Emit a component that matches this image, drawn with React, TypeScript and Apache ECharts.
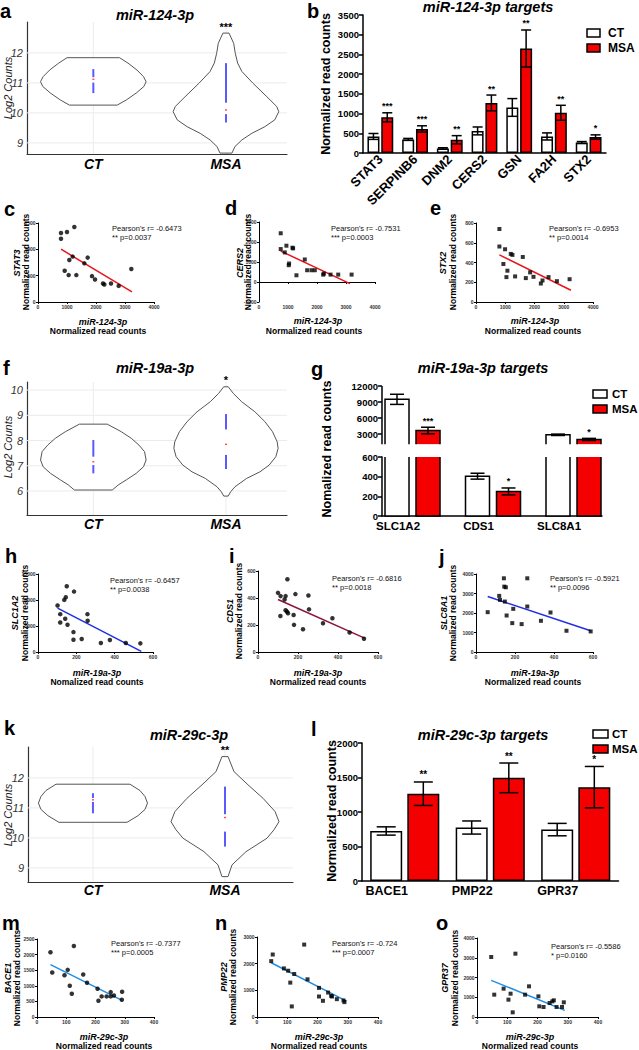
import React, { useEffect, useRef } from 'react';
import * as echarts from 'echarts';

const FONT = '"Liberation Sans", Arial, Helvetica, sans-serif';
const RED = '#f50000';
const BLUE_FIT = '#1f2fe0';
const DARKRED_FIT = '#8b1538';
const LIGHTBLUE_FIT = '#1e8ee6';

/* ---------------- violin panels (a, f, k) ---------------- */
const violinGroups = ['CT', 'MSA'];

const aTicks = [9, 10, 11, 12];
const aCtLevels = [11.84, 11.66, 11.43, 11.21, 11.04, 10.88, 10.66, 10.43, 10.26];
const aCtHalf = [0.198, 0.261, 0.329, 0.378, 0.398, 0.381, 0.323, 0.248, 0.18];
const aMsaLevels = [12.66, 12.32, 11.99, 11.66, 11.38, 10.99, 10.54, 10.21, 10.04, 9.77, 9.54, 9.32, 9.1, 8.88, 8.66];
const aMsaHalf = [0.023, 0.058, 0.07, 0.088, 0.12, 0.203, 0.308, 0.383, 0.398, 0.368, 0.293, 0.195, 0.12, 0.068, 0.045];
const aCtIqr = [[11.19, 11.46], [10.66, 11.01]];
const aMsaIqr = [[10.34, 11.66], [9.68, 9.96]];
const aMedians = [11.12, 10.1];
const aStars = ['', '***'];

const fTicks = [6, 7, 8, 9, 10];
const fCtLevels = [8.65, 8.35, 8.09, 7.82, 7.56, 7.23, 6.96, 6.7, 6.44, 6.24, 6.04];
const fCtHalf = [0.105, 0.211, 0.286, 0.344, 0.386, 0.398, 0.378, 0.323, 0.248, 0.188, 0.143];
const fMsaLevels = [10.13, 9.87, 9.54, 9.14, 8.75, 8.35, 7.95, 7.69, 7.36, 7.03, 6.76, 6.5, 6.17, 5.97, 5.8];
const fMsaHalf = [0.017, 0.055, 0.118, 0.218, 0.293, 0.351, 0.386, 0.393, 0.376, 0.326, 0.256, 0.156, 0.068, 0.035, 0.017];
const fCtIqr = [[7.36, 8.02], [6.7, 7.03]];
const fMsaIqr = [[8.44, 9.05], [6.87, 7.43]];
const fMedians = [7.16, 7.85];
const fStars = ['', '*'];

const kTicks = [9, 10, 11, 12];
const kCtLevels = [11.79, 11.58, 11.38, 11.16, 10.95, 10.74, 10.52];
const kCtHalf = [0.28, 0.356, 0.394, 0.413, 0.394, 0.341, 0.258];
const kMsaLevels = [12.71, 12.21, 11.77, 11.32, 10.88, 10.54, 10.27, 9.99, 9.54, 9.1, 8.71];
const kMsaHalf = [0.023, 0.068, 0.174, 0.288, 0.379, 0.409, 0.371, 0.318, 0.159, 0.053, 0.023];
const kCtIqr = [[11.33, 11.49], [10.82, 11.2]];
const kMsaIqr = [[10.79, 11.71], [9.71, 10.21]];
const kMedians = [11.27, 10.68];
const kStars = ['', '**'];

/* ---------------- bar panels (b, g, l) ---------------- */
const legendNames = ['CT', 'MSA'];

const genesB = ['STAT3', 'SERPINB6', 'DNM2', 'CERS2', 'GSN', 'FA2H', 'STX2'];
const ctB = [420, 345, 115, 560, 1155, 420, 265];
const ctErrB = [75, 25, 18, 100, 225, 90, 25];
const msaB = [905, 610, 335, 1270, 2650, 1020, 405];
const msaErrB = [115, 80, 105, 200, 470, 190, 55];
const sigB = ['***', '***', '**', '**', '**', '**', '*'];

const genesG = ['SLC1A2', 'CDS1', 'SLC8A1'];
const ctG = [9500, 405, 2850];
const ctErrG = [950, 30, 130];
const msaG = [3650, 250, 1980];
const msaErrG = [620, 35, 200];
const sigG = ['***', '*', '*'];
const gUpperTicks = [3000, 6000, 9000, 12000];
const gUpperMax = 12000;
const gBreakLow = 1100;
const gLowerMax = 600;

const genesL = ['BACE1', 'PMP22', 'GPR37'];
const ctL = [725, 775, 745];
const ctErrL = [60, 95, 90];
const msaL = [1265, 1495, 1360];
const msaErrL = [170, 215, 300];
const sigL = ['**', '**', '*'];

/* ---------------- scatter panels ---------------- */
const cPts = [[793, 1309], [793, 1200], [1000, 1328], [1253, 1423], [1080, 798], [1195, 862], [920, 594], [1057, 511], [1322, 511], [1598, 734], [1713, 843], [1862, 491], [1966, 428], [2241, 351], [2287, 332], [2517, 351], [2782, 306], [3218, 626]];
const cFit = [[793, 1002], [3241, 191]];
const dPts = [[749, 2437], [749, 1647], [888, 1479], [945, 1815], [1026, 840], [1037, 924], [1153, 1714], [1176, 1681], [1291, 336], [1579, 1126], [1660, 588], [1810, 588], [1925, 588], [2213, 370], [2236, 420], [2467, 370], [2732, 370], [3193, 370]];
const dFit = [[749, 1546], [3135, -84]];
const ePts = [[800, 739], [800, 562], [994, 534], [937, 385], [1074, 317], [1040, 252], [1189, 487], [1246, 477], [1337, 259], [1600, 456], [1703, 242], [1851, 300], [1966, 255], [2217, 187], [2274, 218], [2480, 252], [2766, 211], [3200, 231]];
const eFit = [[800, 477], [3246, 119]];
const hPts = [[102, 8936], [116, 7277], [116, 5681], [137, 10021], [145, 10532], [142, 6383], [150, 12638], [154, 5234], [188, 11617], [185, 3830], [185, 2362], [228, 2489], [258, 7277], [259, 6000], [328, 1723], [375, 2298], [458, 1723], [534, 1660]];
const hFit = [[102, 8426], [539, 128]];
const iPts = [[100, 438], [113, 414], [112, 267], [133, 389], [138, 414], [138, 309], [147, 539], [145, 299], [150, 287], [178, 274], [180, 201], [187, 429], [225, 169], [252, 419], [255, 316], [325, 213], [372, 250], [458, 144], [530, 98]];
const iFit = [[100, 389], [533, 103]];
const jPts = [[60, 2043], [119, 2877], [123, 2672], [143, 3779], [145, 3353], [153, 3319], [148, 2587], [157, 1872], [191, 2213], [186, 1481], [234, 1430], [263, 3779], [263, 2332], [333, 1600], [382, 2026], [464, 1089], [588, 1055]];
const jFit = [[60, 2843], [588, 1089]];
const mPts = [[46, 2074], [52, 1426], [94, 1340], [105, 1511], [112, 1000], [119, 745], [126, 2277], [158, 1362], [171, 1096], [207, 904], [210, 521], [221, 660], [238, 660], [252, 660], [252, 798], [263, 691], [290, 553], [291, 809]];
const mFit = [[46, 1681], [291, 532]];
const nPts = [[47, 2095], [52, 2343], [89, 1822], [103, 1736], [110, 1289], [115, 397], [123, 1612], [156, 2715], [167, 1413], [205, 1091], [205, 769], [218, 607], [235, 917], [245, 793], [248, 769], [264, 669], [286, 620], [289, 558]];
const nFit = [[47, 2033], [296, 595]];
const oPts = [[47, 3038], [57, 1131], [88, 1435], [104, 878], [111, 1181], [118, 236], [127, 3207], [159, 1131], [172, 1553], [203, 1046], [206, 540], [220, 506], [240, 709], [249, 793], [254, 844], [263, 506], [281, 506], [287, 743]];
const oFit = [[47, 1857], [290, 338]];

const xTicks124 = [0, 4000, 1000];
const xTicks19a = [0, 600, 200];
const xTicks29c = [0, 400, 100];
const cY = [0, 1500, 500];
const dY = [-1000, 3000, 1000];
const eY = [0, 800, 200];
const hY = [0, 15000, 5000];
const iY = [0, 600, 200];
const jY = [0, 4000, 1000];
const mY = [0, 2500, 500];
const nY = [0, 3000, 1000];
const oY = [0, 4000, 1000];

const pearson = {
  c: ["Pearson's r= -0.6473", '** p=0.0037'],
  d: ["Pearson's r= -0.7531", '*** p=0.0003'],
  e: ["Pearson's r= -0.6953", '** p=0.0014'],
  h: ["Pearson's r= -0.6457", '** p=0.0038'],
  i: ["Pearson's r= -0.6816", '** p=0.0018'],
  j: ["Pearson's r= -0.5921", '** p=0.0096'],
  m: ["Pearson's r= -0.7377", '*** p=0.0005'],
  n: ["Pearson's r= -0.724", '*** p=0.0007'],
  o: ["Pearson's r= -0.5586", '* p=0.0160'],
};

/* ---------------- helpers ---------------- */
const plain = (v: number) => String(v);

type Txt = { w?: string; i?: boolean; al?: string; va?: string; rot?: number; fill?: string };
const T = (x: number, y: number, text: string, size: number, o: Txt = {}) => ({
  type: 'text',
  x,
  y,
  rotation: o.rot || 0,
  silent: true,
  z: 50,
  style: {
    text,
    fontSize: size,
    fontWeight: o.w || 'normal',
    fontStyle: o.i ? 'italic' : 'normal',
    fontFamily: FONT,
    fill: o.fill || '#000',
    align: o.al || 'left',
    textAlign: o.al || 'left',
    verticalAlign: o.va || 'middle',
    textVerticalAlign: o.va || 'middle',
  },
});
const R = (x: number, y: number, w: number, h: number, fill: string) => ({
  type: 'rect',
  silent: true,
  z: 50,
  shape: { x, y, width: w, height: h },
  style: { fill, stroke: '#000', lineWidth: 1.5 },
});

const mkViolin = (center: number, levels: number[], half: number[], iqr: number[][], median: number, star: string) => ({ center, levels, half, iqr, median, star });

const violinRender = (defs: any[], yMin: number, yMax: number) => (params: any, api: any) => {
  const d = defs[params.dataIndex];
  const right = d.levels.map((lv: number, k: number) => api.coord([d.center + d.half[k], lv]));
  const left = d.levels.map((lv: number, k: number) => api.coord([d.center - d.half[k], lv])).reverse();
  const g0 = api.coord([d.center, yMin]);
  const g1 = api.coord([d.center, yMax]);
  const ch: any[] = [
    { type: 'line', shape: { x1: g0[0], y1: g0[1], x2: g1[0], y2: g1[1] }, style: { stroke: '#ececec', lineWidth: 1 } },
    { type: 'polygon', shape: { points: right.concat(left) }, style: { fill: '#fff', stroke: '#555', lineWidth: 1 } },
  ];
  d.iqr.forEach((seg: number[]) => {
    const p = api.coord([d.center, seg[1]]);
    const q = api.coord([d.center, seg[0]]);
    ch.push({ type: 'line', shape: { x1: p[0], y1: p[1], x2: q[0], y2: q[1] }, style: { stroke: '#5a5aff', lineWidth: 2 } });
  });
  const m = api.coord([d.center, d.median]);
  ch.push({ type: 'rect', shape: { x: m[0] - 1, y: m[1] - 0.75, width: 2, height: 1.5 }, style: { fill: '#ff5050' } });
  if (d.star) {
    const t = api.coord([d.center, d.levels[0]]);
    ch.push({
      type: 'text', x: t[0], y: t[1] - 1,
      style: { text: d.star, fontSize: 11, fontWeight: 'bold', fontFamily: FONT, fill: '#000', align: 'center', textAlign: 'center', verticalAlign: 'bottom', textVerticalAlign: 'bottom' },
    });
  }
  return { type: 'group', children: ch };
};

const gridLineRender = (params: any, api: any) => {
  const y = api.coord([1, api.value(1)])[1];
  const cs = params.coordSys;
  return { type: 'line', shape: { x1: cs.x, y1: y, x2: cs.x + cs.width, y2: y }, style: { stroke: '#ebebeb', lineWidth: 1 } };
};

const errShapes = (api: any, xv: number, m: number, e: number, cx: number, capW: number, star: string, starSize: number) => {
  const yt = api.coord([xv, m + e])[1];
  const yb = api.coord([xv, m - e])[1];
  const st = { stroke: '#000', lineWidth: 1.5 };
  const ch: any[] = [
    { type: 'line', shape: { x1: cx, y1: yt, x2: cx, y2: yb }, style: st },
    { type: 'line', shape: { x1: cx - capW / 2, y1: yt, x2: cx + capW / 2, y2: yt }, style: st },
    { type: 'line', shape: { x1: cx - capW / 2, y1: yb, x2: cx + capW / 2, y2: yb }, style: st },
  ];
  if (star) {
    ch.push({
      type: 'text', x: cx, y: yt - 2,
      style: { text: star, fontSize: starSize, fontWeight: 'bold', fontFamily: FONT, fill: '#000', align: 'center', textAlign: 'center', verticalAlign: 'bottom', textVerticalAlign: 'bottom' },
    });
  }
  return ch;
};

const errRender = (off: number, capW: number, sig: string[], starSize: number) => (params: any, api: any) => {
  const i = api.value(0);
  const m = api.value(1);
  const e = api.value(2);
  const s = api.value(3);
  const cx = api.coord([i, m])[0] + (s === 0 ? -off : off);
  return { type: 'group', children: errShapes(api, i, m, e, cx, capW, s === 1 ? sig[i] : '', starSize) };
};

const G_BW = 24;
const G_OFF = 15.5;
const G_CAP = 14;

const gUpperRender = (params: any, api: any) => {
  const x = api.value(0);
  const v = api.value(1);
  const s = api.value(2);
  const e = api.value(3);
  const cs = params.coordSys;
  const ch: any[] = [];
  if (params.dataIndex === 0) {
    const yb = api.coord([x, gBreakLow])[1];
    ch.push({ type: 'line', shape: { x1: cs.x, y1: yb, x2: cs.x, y2: cs.y }, style: { stroke: '#000', lineWidth: 1.5 } });
  }
  if (v > gLowerMax) {
    const pT = api.coord([x, v]);
    const pB = api.coord([x, gBreakLow]);
    const cx = pT[0] + (s ? G_OFF : -G_OFF);
    const l = cx - G_BW / 2;
    const r = cx + G_BW / 2;
    ch.push({ type: 'rect', shape: { x: l, y: pT[1], width: G_BW, height: pB[1] - pT[1] }, style: { fill: s ? RED : '#fff' } });
    ch.push({ type: 'polyline', shape: { points: [[l, pB[1]], [l, pT[1]], [r, pT[1]], [r, pB[1]]] }, style: { stroke: '#000', lineWidth: 1.5, fill: 'none' } });
    ch.push(...errShapes(api, x, v, e, cx, G_CAP, s ? sigG[Math.floor(params.dataIndex / 2)] : '', 9));
  }
  return { type: 'group', children: ch };
};

const gLowerRender = (params: any, api: any) => {
  const x = api.value(0);
  const v = api.value(1);
  const s = api.value(2);
  const e = api.value(3);
  const broken = v > gLowerMax;
  const pT = api.coord([x, broken ? gLowerMax : v]);
  const pB = api.coord([x, 0]);
  const cx = pT[0] + (s ? G_OFF : -G_OFF);
  const l = cx - G_BW / 2;
  const r = cx + G_BW / 2;
  const ch: any[] = [
    { type: 'rect', shape: { x: l, y: pT[1], width: G_BW, height: pB[1] - pT[1] }, style: { fill: s ? RED : '#fff' } },
  ];
  if (broken) {
    ch.push({ type: 'polyline', shape: { points: [[l, pT[1]], [l, pB[1]], [r, pB[1]], [r, pT[1]]] }, style: { stroke: '#000', lineWidth: 1.5, fill: 'none' } });
  } else {
    ch.push({ type: 'rect', shape: { x: l, y: pT[1], width: G_BW, height: pB[1] - pT[1] }, style: { fill: 'none', stroke: '#000', lineWidth: 1.5 } });
    ch.push(...errShapes(api, x, v, e, cx, G_CAP, s ? sigG[Math.floor(params.dataIndex / 2)] : '', 9));
  }
  return { type: 'group', children: ch };
};

function buildOption() {
  const grids = [
    { left: 27, top: 22, width: 260, height: 132 }, // 0 a
    { left: 363, top: 15, width: 243, height: 138 }, // 1 b
    { left: 38, top: 223, width: 116, height: 79 }, // 2 c
    { left: 259, top: 222, width: 116, height: 80 }, // 3 d
    { left: 476, top: 223, width: 117, height: 79 }, // 4 e
    { left: 27, top: 382, width: 260, height: 133 }, // 5 f
    { left: 382, top: 386, width: 220, height: 64 }, // 6 g upper
    { left: 382, top: 457, width: 220, height: 59 }, // 7 g lower
    { left: 38, top: 574, width: 115, height: 78 }, // 8 h
    { left: 258, top: 571, width: 120, height: 81 }, // 9 i
    { left: 476, top: 574, width: 117, height: 78 }, // 10 j
    { left: 28, top: 747, width: 265, height: 135 }, // 11 k
    { left: 362, top: 743, width: 256.5, height: 138 }, // 12 l
    { left: 37, top: 939, width: 117, height: 78 }, // 13 m
    { left: 257, top: 937, width: 121, height: 80 }, // 14 n
    { left: 477, top: 938, width: 121, height: 79 }, // 15 o
  ].map((g) => ({ ...g, outerBoundsMode: 'none' }));

  const axisBlack = (w: number) => ({ show: true, onZero: false, lineStyle: { color: '#000', width: w } });

  const vX = (gi: number, min: number, max: number, margin: number) => ({
    gridIndex: gi, type: 'value', min, max,
    axisLine: { show: true, onZero: false, lineStyle: { color: '#333', width: 1.2 } },
    axisTick: { show: false }, splitLine: { show: false },
    axisLabel: {
      customValues: [1, 2], formatter: (v: number) => violinGroups[Math.round(v) - 1] || '',
      fontSize: 14, fontWeight: 'bold', fontStyle: 'italic', color: '#000', margin, fontFamily: FONT,
    },
  });
  const vY = (gi: number, min: number, max: number, ticks: number[]) => ({
    gridIndex: gi, type: 'value', min, max,
    axisLine: { show: true, onZero: false, lineStyle: { color: '#333', width: 1.2 } },
    axisTick: { show: false }, splitLine: { show: false },
    axisLabel: { customValues: ticks, formatter: plain, fontSize: 11, fontStyle: 'italic', color: '#333', margin: 4, fontFamily: FONT },
  });
  const sLabel = { formatter: plain, fontSize: 5, fontWeight: 'bold', color: '#333', margin: 2.5, fontFamily: FONT };
  const sX = (gi: number, t: number[]) => ({
    gridIndex: gi, type: 'value', min: t[0], max: t[1], interval: t[2],
    axisLine: { show: true, onZero: true, lineStyle: { color: '#000', width: 1 } },
    axisTick: { show: true, length: 2, lineStyle: { color: '#000', width: 1 } },
    axisLabel: sLabel,
    splitLine: { show: false },
  });
  const sY = (gi: number, t: number[]) => ({
    gridIndex: gi, type: 'value', min: t[0], max: t[1], interval: t[2],
    axisLine: { show: true, onZero: false, lineStyle: { color: '#000', width: 1 } },
    axisTick: { show: true, length: 2, lineStyle: { color: '#000', width: 1 } },
    axisLabel: sLabel,
    splitLine: { show: false },
  });
  const barY = (gi: number, min: number, max: number, interval: number) => ({
    gridIndex: gi, type: 'value', min, max, interval,
    axisLine: axisBlack(1.5),
    axisTick: { show: true, length: 4, lineStyle: { color: '#000', width: 1.5 } },
    axisLabel: { formatter: plain, fontSize: 9.5, fontWeight: 'bold', color: '#000', margin: 4, fontFamily: FONT },
    splitLine: { show: false },
  });

  const xAxis = [
    vX(0, 0.5, 2.46, 3),
    {
      gridIndex: 1, type: 'category', data: genesB,
      axisLine: axisBlack(1.5), axisTick: { show: false },
      axisLabel: { rotate: 45, interval: 0, fontSize: 13, fontWeight: 'bold', color: '#000', margin: 4, fontFamily: FONT },
    },
    sX(2, xTicks124), sX(3, xTicks124), sX(4, xTicks124),
    vX(5, 0.5, 2.46, 2),
    { gridIndex: 6, type: 'value', min: 0.621, max: 3.354, show: false },
    {
      gridIndex: 7, type: 'value', min: 0.621, max: 3.354,
      axisLine: axisBlack(1.5), axisTick: { show: false }, splitLine: { show: false },
      axisLabel: {
        customValues: [1, 2, 3], formatter: (v: number) => genesG[Math.round(v) - 1] || '',
        fontSize: 11.5, fontWeight: 'bold', color: '#000', margin: 4, padding: [0, 29, 0, 0], fontFamily: FONT,
      },
    },
    sX(8, xTicks19a), sX(9, xTicks19a), sX(10, xTicks19a),
    vX(11, 0.508, 2.515, 1),
    {
      gridIndex: 12, type: 'category', data: genesL,
      axisLine: axisBlack(1.5), axisTick: { show: false },
      axisLabel: { interval: 0, fontSize: 12.5, fontWeight: 'bold', color: '#000', margin: 3, padding: [0, 36, 0, 0], fontFamily: FONT },
    },
    sX(13, xTicks29c), sX(14, xTicks29c), sX(15, xTicks29c),
  ];

  const yAxis = [
    vY(0, 8.63, 13.03, aTicks),
    barY(1, 0, 3500, 500),
    sY(2, cY), sY(3, dY), sY(4, eY),
    vY(5, 5.05, 10.32, fTicks),
    {
      gridIndex: 6, type: 'value', min: 0, max: gUpperMax,
      axisLine: { show: false },
      axisTick: { show: true, customValues: gUpperTicks, length: 4, lineStyle: { color: '#000', width: 1.5 } },
      axisLabel: { customValues: gUpperTicks, formatter: plain, fontSize: 9.5, fontWeight: 'bold', color: '#000', margin: 4, fontFamily: FONT },
      splitLine: { show: false },
    },
    barY(7, 0, gLowerMax, 200),
    sY(8, hY), sY(9, iY), sY(10, jY),
    vY(11, 8.53, 13.03, kTicks),
    barY(12, 0, 2000, 500),
    sY(13, mY), sY(14, nY), sY(15, oY),
  ];

  const aDefs = [mkViolin(1, aCtLevels, aCtHalf, aCtIqr, aMedians[0], aStars[0]), mkViolin(2, aMsaLevels, aMsaHalf, aMsaIqr, aMedians[1], aStars[1])];
  const fDefs = [mkViolin(1, fCtLevels, fCtHalf, fCtIqr, fMedians[0], fStars[0]), mkViolin(2, fMsaLevels, fMsaHalf, fMsaIqr, fMedians[1], fStars[1])];
  const kDefs = [mkViolin(1, kCtLevels, kCtHalf, kCtIqr, kMedians[0], kStars[0]), mkViolin(2, kMsaLevels, kMsaHalf, kMsaIqr, kMedians[1], kStars[1])];

  const violinSeries = (gi: number, defs: any[], ticks: number[], yMin: number, yMax: number) => [
    { type: 'custom', xAxisIndex: gi, yAxisIndex: gi, z: 1, silent: true, data: ticks.map((t) => [1, t]), renderItem: gridLineRender },
    { type: 'custom', xAxisIndex: gi, yAxisIndex: gi, z: 2, silent: true, data: defs.map((d) => [d.center, d.levels[0]]), renderItem: violinRender(defs, yMin, yMax) },
  ];

  const barSeries = (gi: number, genes: string[], ct: number[], ctErr: number[], msa: number[], msaErr: number[], sig: string[], bw: number, gap: string, off: number, cap: number, starSize: number) => [
    { type: 'bar', name: 'CT', xAxisIndex: gi, yAxisIndex: gi, data: ct, barWidth: bw, barGap: gap, silent: true, itemStyle: { color: '#fff', borderColor: '#000', borderWidth: 1.5 } },
    { type: 'bar', name: 'MSA', xAxisIndex: gi, yAxisIndex: gi, data: msa, barWidth: bw, barGap: gap, silent: true, itemStyle: { color: RED, borderColor: '#000', borderWidth: 1.5 } },
    {
      type: 'custom', xAxisIndex: gi, yAxisIndex: gi, z: 3, silent: true,
      data: genes.map((_, i) => [i, ct[i], ctErr[i], 0]).concat(genes.map((_, i) => [i, msa[i], msaErr[i], 1])),
      renderItem: errRender(off, cap, sig, starSize),
    },
  ];

  const scatterSeries = (gi: number, pts: number[][], fit: number[][], color: string, symbol: string) => [
    { type: 'scatter', xAxisIndex: gi, yAxisIndex: gi, data: pts, symbol, symbolSize: symbol === 'rect' ? 4 : 4.5, silent: true, itemStyle: { color: '#000' }, z: 3 },
    { type: 'line', xAxisIndex: gi, yAxisIndex: gi, data: fit, symbol: 'none', showSymbol: false, silent: true, lineStyle: { color, width: 1.5 }, z: 2 },
  ];

  const gItems = genesG.flatMap((_, i) => [[i + 1, ctG[i], 0, ctErrG[i]], [i + 1, msaG[i], 1, msaErrG[i]]]);

  const series = [
    ...violinSeries(0, aDefs, aTicks, 8.63, 13.03),
    ...barSeries(1, genesB, ctB, ctErrB, msaB, msaErrB, sigB, 12, '15%', 6.9, 10, 9),
    ...scatterSeries(2, cPts, cFit, '#e8141c', 'circle'),
    ...scatterSeries(3, dPts, dFit, '#e8141c', 'rect'),
    ...scatterSeries(4, ePts, eFit, '#e8141c', 'rect'),
    ...violinSeries(5, fDefs, fTicks, 5.05, 10.32),
    { type: 'custom', xAxisIndex: 6, yAxisIndex: 6, z: 3, silent: true, data: gItems, renderItem: gUpperRender },
    { type: 'custom', xAxisIndex: 7, yAxisIndex: 7, z: 3, silent: true, data: gItems, renderItem: gLowerRender },
    ...scatterSeries(8, hPts, hFit, BLUE_FIT, 'circle'),
    ...scatterSeries(9, iPts, iFit, DARKRED_FIT, 'circle'),
    ...scatterSeries(10, jPts, jFit, BLUE_FIT, 'rect'),
    ...violinSeries(11, kDefs, kTicks, 8.53, 13.03),
    ...barSeries(12, genesL, ctL, ctErrL, msaL, msaErrL, sigL, 32, '16%', 18.56, 19, 10),
    ...scatterSeries(13, mPts, mFit, LIGHTBLUE_FIT, 'circle'),
    ...scatterSeries(14, nPts, nFit, LIGHTBLUE_FIT, 'rect'),
    ...scatterSeries(15, oPts, oFit, LIGHTBLUE_FIT, 'rect'),
  ];

  const rot = Math.PI / 2;
  const letter = (x: number, y: number, s: string) => T(x, y, s, 20, { w: 'bold' });
  const title = (x: number, y: number, s: string) => T(x, y, s, 14.5, { w: 'bold', i: true, al: 'center' });
  const geneName = (x: number, y: number, s: string) => T(x, y, s, 9, { w: 'bold', i: true, al: 'center', rot });
  const nrcV = (x: number, y: number, s: string) => T(x, y, s, 8.5, { w: 'bold', al: 'center', rot });
  const xMi = (x: number, y: number, s: string) => T(x, y, s, 9, { w: 'bold', i: true, al: 'center' });
  const nrcH = (x: number, y: number, s: string) => T(x, y, s, 8.5, { w: 'bold', al: 'center' });
  const pr = (x: number, y: number, p: string[]) => [T(x, y, p[0], 7.5, { fill: '#111' }), T(x, y + 9, p[1], 7.5, { fill: '#111' })];
  const legend = (bx: number, by: number, bw: number, tx: number, gap: number, fs: number) => [
    R(bx, by, bw, 8, '#fff'), R(bx, by + gap, bw, 8, RED),
    T(tx, by + 4, legendNames[0], fs, { w: 'bold' }), T(tx, by + gap + 4, legendNames[1], fs, { w: 'bold' }),
  ];

  const elements: any[] = [
    // a
    letter(0, 11, 'a'), title(155, 15, 'miR-124-3p'), T(8, 88, 'Log2 Counts', 11, { i: true, al: 'center', rot, fill: '#222' }),
    // b
    letter(307, 11, 'b'), title(488, 7, 'miR-124-3p targets'), T(326, 84, 'Normalized read counts', 12.5, { w: 'bold', al: 'center', rot }),
    ...legend(587, 29, 13, 608, 15, 12),
    // c
    letter(4, 209, 'c'), geneName(17, 263, 'STAT3'), nrcV(26, 262, 'Normalized read counts'),
    xMi(103, 322, 'miR-124-3p'), nrcH(98, 331, 'Normalized read counts'), ...pr(112, 228, pearson.c),
    // d
    letter(225, 208, 'd'), geneName(240, 263, 'CERS2'), nrcV(248, 262, 'Normalized read counts'),
    xMi(318, 321, 'miR-124-3p'), nrcH(314, 331, 'Normalized read counts'), ...pr(331, 228, pearson.d),
    // e
    letter(430, 208, 'e'), geneName(443, 263, 'STX2'), nrcV(453, 262, 'Normalized read counts'),
    xMi(535, 321, 'miR-124-3p'), nrcH(533, 331, 'Normalized read counts'), ...pr(549, 228, pearson.e),
    // f
    letter(3, 368, 'f'), title(155, 368, 'miR-19a-3p'), T(8, 447, 'Log2 Counts', 11, { i: true, al: 'center', rot, fill: '#222' }),
    // g
    letter(311, 369, 'g'), title(483, 368, 'miR-19a-3p targets'), T(327, 449, 'Nomalized read counts', 12.5, { w: 'bold', al: 'center', rot }),
    ...legend(593, 390, 14, 612, 15, 11.5),
    // h
    letter(5, 556, 'h'), geneName(15, 613, 'SLC1A2'), nrcV(25, 613, 'Normalized read counts'),
    xMi(97, 673, 'miR-19a-3p'), nrcH(97, 682, 'Nomalized read counts'), ...pr(110, 580, pearson.h),
    // i
    letter(229, 556, 'i'), geneName(230, 611, 'CDS1'), nrcV(239, 611, 'Normalized read counts'),
    xMi(318, 673, 'miR-19a-3p'), nrcH(318, 682, 'Normalized read counts'), ...pr(332, 578, pearson.i),
    // j
    letter(439, 557, 'j'), geneName(444, 613, 'SLC8A1'), nrcV(453, 613, 'Normalized read counts'),
    xMi(535, 673, 'miR-19a-3p'), nrcH(533, 682, 'Normalized read counts'), ...pr(550, 578, pearson.j),
    // k
    letter(4, 728, 'k'), title(189, 735, 'miR-29c-3p'), T(8, 815, 'Log2 Counts', 11, { i: true, al: 'center', rot, fill: '#222' }),
    // l
    letter(311, 729, 'l'), title(483, 735, 'miR-29c-3p targets'), T(332, 811, 'Normalized read counts', 12.5, { w: 'bold', al: 'center', rot }),
    ...legend(593, 730, 15, 612, 15, 11.5),
    // m
    letter(2, 923, 'm'), geneName(8, 978, 'BACE1'), nrcV(17, 978, 'Normalized read counts'),
    xMi(104, 1037, 'miR-29c-3p'), nrcH(104, 1046, 'Normalized read counts'), ...pr(111, 943, pearson.m),
    // n
    letter(215, 923, 'n'), geneName(224, 977, 'PMP22'), nrcV(233, 977, 'Normalized read counts'),
    xMi(319, 1037, 'miR-29c-3p'), nrcH(319, 1046, 'Normalized read counts'), ...pr(332, 943, pearson.n),
    // o
    letter(436, 923, 'o'), geneName(445, 978, 'GPR37'), nrcV(455, 978, 'Normalized read counts'),
    xMi(530, 1037, 'miR-29c-3p'), nrcH(530, 1046, 'Normalized read counts'), ...pr(551, 946, pearson.o),
  ];

  return {
    animation: false,
    backgroundColor: '#fff',
    textStyle: { fontFamily: FONT },
    grid: grids,
    xAxis,
    yAxis,
    series,
    graphic: { elements },
  };
}

export default function App() {
  const ref = useRef<HTMLDivElement>(null);
  useEffect(() => {
    if (!ref.current) return;
    const chart = echarts.init(ref.current, null, { renderer: 'svg' });
    chart.setOption(buildOption() as any);
    return () => chart.dispose();
  }, []);
  return (
    <div
      ref={ref}
      style={{ position: 'absolute', left: 0, top: 0, width: 639, height: 1050, background: '#fff' }}
    />
  );
}
